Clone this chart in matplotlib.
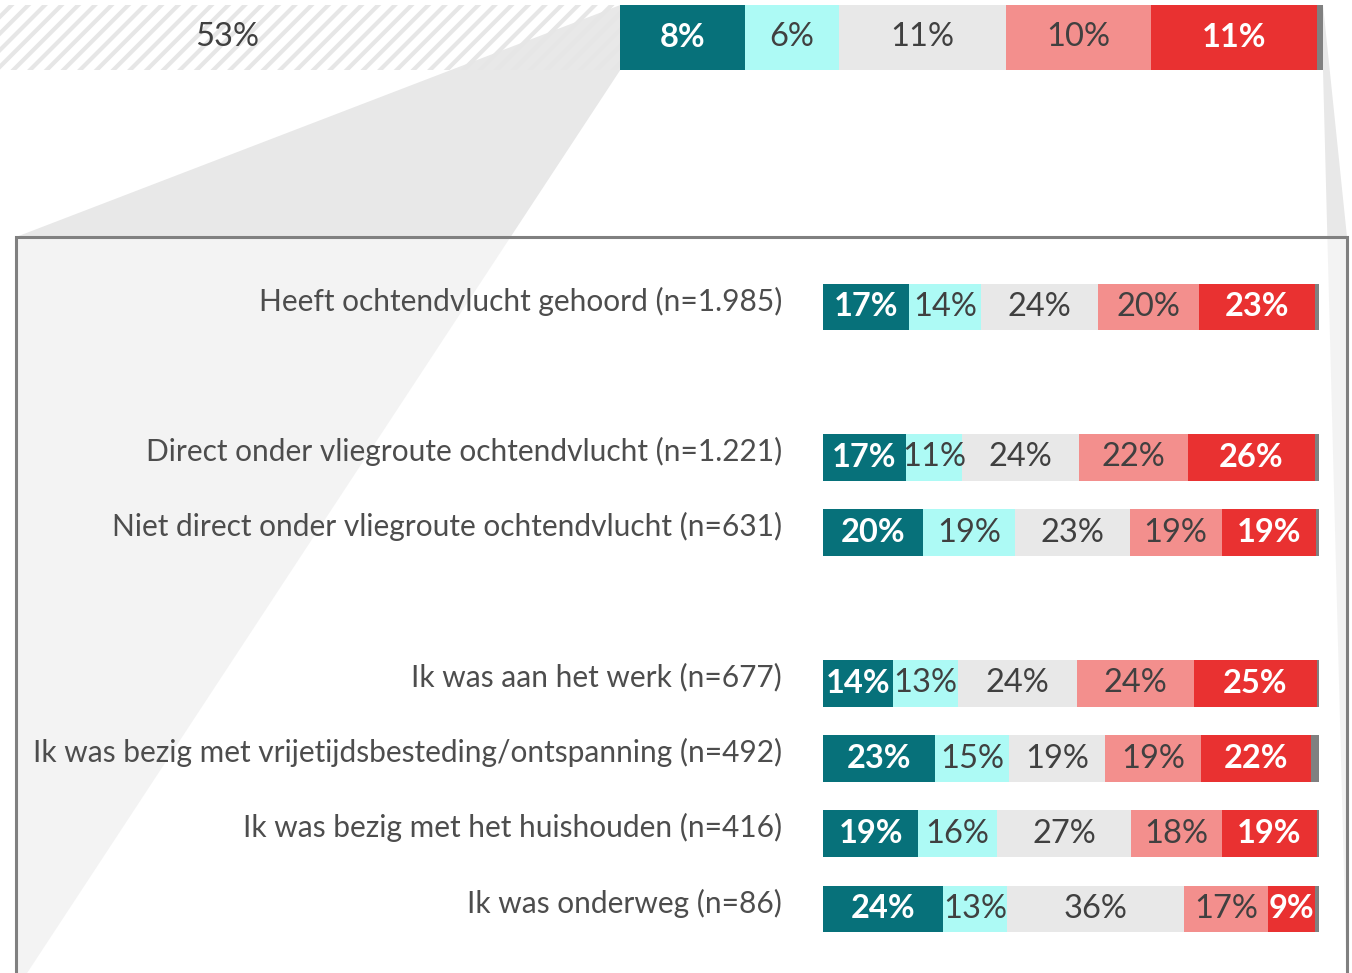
import matplotlib.pyplot as plt
from matplotlib.patches import Polygon, Rectangle
from matplotlib.transforms import blended_transform_factory

plt.rcParams['font.family'] = ['Lato', 'DejaVu Sans']
plt.rcParams['hatch.linewidth'] = 3.0

# answer categories (left to right), last one = no answer
colors = ['#07717a', '#adfaf5', '#e8e8e8', '#f38f8d', '#e93131', '#808080']
text_colors = ['white', '#404040', '#404040', '#404040', 'white', None]
bold = [True, False, False, False, True, False]

# top bar: share not bothered (hatched) + the five answers + no answer
top_rest = 53.4
top_values = [8.3, 6.2, 11.1, 9.6, 11.0, 0.4]

# zoomed bars
categories = [
    'Heeft ochtendvlucht gehoord (n=1.985)',
    'Direct onder vliegroute ochtendvlucht (n=1.221)',
    'Niet direct onder vliegroute ochtendvlucht (n=631)',
    'Ik was aan het werk (n=677)',
    'Ik was bezig met vrijetijdsbesteding/ontspanning (n=492)',
    'Ik was bezig met het huishouden (n=416)',
    'Ik was onderweg (n=86)',
]
row_pos = [0, 2, 3, 5, 6, 7, 8]
values = [
    [17.4, 14.4, 23.6, 20.4, 23.4, 0.8],
    [16.7, 11.3, 23.6, 22.0, 25.6, 0.8],
    [20.2, 18.6, 23.0, 18.6, 19.0, 0.6],
    [14.1, 13.1, 24.0, 23.6, 24.7, 0.5],
    [22.6, 14.9, 19.4, 19.3, 22.2, 1.6],
    [19.2, 15.9, 27.0, 18.3, 19.2, 0.4],
    [24.2, 12.9, 35.6, 17.0, 9.4, 0.9],
]

W, H = 1352, 973
fig = plt.figure(figsize=(W / 100, H / 100), dpi=100)

# background layer in pixel units for connector and frame
ax_bg = fig.add_axes([0, 0, 1, 1], zorder=0)
ax_bg.set_xlim(0, W)
ax_bg.set_ylim(H, 0)
ax_bg.axis('off')

# top bar, partly cut off on the left
px_per_pct = 15.08
top_right = 1323
top_left = top_right - 100 * px_per_pct
ax_top = fig.add_axes([top_left / W, 1 - 70 / H, 100 * px_per_pct / W, 65 / H], zorder=1)
ax_top.set_xlim(0, 100)
ax_top.set_ylim(0, 1)
ax_top.axis('off')
ax_top.patch.set_alpha(0)

ax_top.barh(0.5, top_rest, left=0, height=1, facecolor='none',
            edgecolor='#e6e6e6', linewidth=0, hatch='//')
ax_top.text(top_rest / 2 + 0.6, 0.5, f'{round(top_rest)}%', ha='center', va='center',
            fontsize=23.5, color='#404040')
left = top_rest
for i, v in enumerate(top_values):
    ax_top.barh(0.5, v, left=left, height=1, color=colors[i], linewidth=0)
    if text_colors[i]:
        ax_top.text(left + v / 2, 0.5, f'{round(v)}%', ha='center', va='center',
                    fontsize=23.5, color=text_colors[i],
                    fontweight='bold' if bold[i] else 'normal')
    left += v

# connector between top bar and the zoom frame
inv = ax_bg.transData.inverted()
(lx0, ly0), (lx1, ly1) = inv.transform(ax_top.transData.transform([(top_rest, 1), (top_rest, 0)]))
(rx0, ry0), (rx1, ry1) = inv.transform(ax_top.transData.transform([(100, 1), (100, 0)]))
box_l, box_r, box_t, box_b = 16, 1347, 237, 990
ax_bg.add_patch(Polygon([(lx0, ly0), (box_l, box_t), (box_l, box_b), (lx1, ly1)],
                        closed=True, facecolor='#e8e8e8', edgecolor='none'))
ax_bg.add_patch(Polygon([(rx0, ry0), (box_r, box_t), (box_r, box_b), (rx1, ry1)],
                        closed=True, facecolor='#e8e8e8', edgecolor='none'))
ax_bg.add_patch(Rectangle((box_l, box_t), box_r - box_l, box_b - box_t,
                          facecolor=(1, 1, 1, 0.5), edgecolor='#808080', linewidth=2.2))

# zoomed bars
bar_l, bar_r = 823, 1319
top_c, bot_c = 307, 909
row_px = (bot_c - top_c) / 8
ax = fig.add_axes([bar_l / W, 1 - (bot_c + row_px / 2) / H, (bar_r - bar_l) / W,
                   9 * row_px / H], zorder=2)
ax.set_xlim(0, 100)
ax.set_ylim(8.5, -0.5)
ax.axis('off')
ax.patch.set_alpha(0)

for r, vals in zip(row_pos, values):
    left = 0
    for i, v in enumerate(vals):
        ax.barh(r, v, left=left, height=0.62, color=colors[i], linewidth=0)
        if text_colors[i]:
            ax.text(left + v / 2, r, f'{round(v)}%', ha='center', va='center',
                    fontsize=23.5, color=text_colors[i],
                    fontweight='bold' if bold[i] else 'normal')
        left += v

lab_tr = blended_transform_factory(ax_bg.transData, ax.transData)
for r, cat in zip(row_pos, categories):
    ax.text(782, r - 0.08, cat, transform=lab_tr, ha='right', va='center',
            fontsize=21.5, color='#4d4d4d', clip_on=False)

fig.savefig('out.png', dpi=100)
